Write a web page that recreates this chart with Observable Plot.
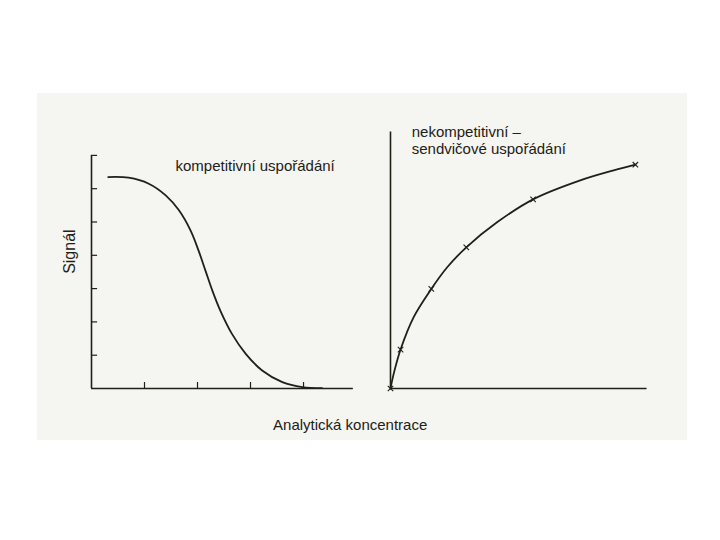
<!DOCTYPE html>
<html>
<head>
<meta charset="utf-8">
<script src="https://cdn.jsdelivr.net/npm/d3@7"></script>
<script src="https://cdn.jsdelivr.net/npm/@observablehq/plot@0.6"></script>
<style>
  html, body { margin: 0; padding: 0; background: #ffffff; }
  #bg { position: absolute; left: 37px; top: 93px; width: 650px; height: 347px; background: #f5f5f2; }
  #chart { position: absolute; left: 0; top: 0; }
</style>
</head>
<body>
<div id="bg"></div>
<div id="chart"></div>
<script>
// Panels
const panels = ["komp", "sand"];

// Competitive (left) curve: x = concentration units, y = signal units
const compX = [0.315, 0.70, 1.08, 1.40, 1.65, 1.87, 2.02, 2.15, 2.28, 2.43, 2.65, 2.91, 3.22, 3.60, 3.98, 4.35];
const compY = [6.35, 6.33, 6.15, 5.80, 5.35, 4.74, 4.14, 3.54, 2.94, 2.34, 1.64, 1.04, 0.54, 0.19, 0.04, 0.01];

// Non-competitive / sandwich (right) curve
const sandX = [0, 0.06, 0.19, 0.44, 0.77, 1.07, 1.43, 2.01, 2.69, 3.58, 4.21, 4.62];
const sandY = [0, 0.44, 1.17, 2.15, 2.99, 3.64, 4.24, 4.99, 5.68, 6.25, 6.55, 6.72];

// Measured points (× markers) on the right curve
const markX = [0, 0.19, 0.77, 1.43, 2.69, 4.62];
const markY = [0, 1.17, 2.99, 4.24, 5.68, 6.72];

// Tick positions (left panel only)
const yTicks = [1, 2, 3, 4, 5, 6, 7];
const xTicks = [1, 2, 3, 4];

// Axis extents per panel
const axisPanel = ["komp", "sand"];
const axisXEnd = [4.94, 4.84];
const axisYEnd = [7.0, 7.70];

// Texts
const leftTitle = "kompetitivní uspořádání";
const rightTitle = ["nekompetitivní –", "sendvičové uspořádání"];
const yLabel = "Signál";
const xLabel = "Analytická koncentrace";

const ink = "#1d2116";

const compData = compX.map((x, i) => ({p: "komp", x, y: compY[i]}));
const sandData = sandX.map((x, i) => ({p: "sand", x, y: sandY[i]}));
const markData = markX.map((x, i) => ({p: "sand", x, y: markY[i]}));
const axes = axisPanel.map((p, i) => ({p, xe: axisXEnd[i], ye: axisYEnd[i]}));
const yTickData = yTicks.map(y => ({p: "komp", y}));
const xTickData = xTicks.map(x => ({p: "komp", x}));

const chart = Plot.plot({
  width: 720,
  height: 540,
  marginLeft: 91,
  marginRight: 68,
  marginTop: 121.6,
  marginBottom: 152,
  style: {fontFamily: "'Liberation Sans', Arial, sans-serif", fontSize: "15px", color: ink, background: "transparent", overflow: "visible"},
  fx: {domain: panels, paddingInner: 0.1237, paddingOuter: 0, round: false, axis: null, label: null},
  x: {domain: [0, 4.943], axis: null},
  y: {domain: [0, 8], axis: null},
  marks: [
    // axes lines
    Plot.ruleY(axes, {fx: "p", y: 0, x1: 0, x2: "xe", stroke: ink, strokeWidth: 1.6}),
    Plot.ruleX(axes, {fx: "p", x: 0, y1: 0, y2: "ye", stroke: ink, strokeWidth: 1.6}),
    // inward ticks (left panel)
    Plot.ruleY(yTickData, {fx: "p", y: "y", x1: 0, x2: 0.115, stroke: ink, strokeWidth: 1.2}),
    Plot.ruleX(xTickData, {fx: "p", x: "x", y1: 0, y2: 0.18, stroke: ink, strokeWidth: 1.2}),
    // curves
    Plot.line(compData, {fx: "p", x: "x", y: "y", curve: "catmull-rom", stroke: ink, strokeWidth: 1.8}),
    Plot.line(sandData, {fx: "p", x: "x", y: "y", curve: "catmull-rom", stroke: ink, strokeWidth: 1.8}),
    Plot.dot(markData, {fx: "p", x: "x", y: "y", symbol: "times", r: 2.6, stroke: ink, strokeWidth: 1.1}),
    // texts
    Plot.text([{p: "komp", t: leftTitle}], {fx: "p", x: 1.585, y: 6.69, text: "t", textAnchor: "start", fill: ink, fontSize: 15}),
    Plot.text([{p: "sand", t: rightTitle.join("\n")}], {fx: "p", x: 0.40, y: 7.89, text: "t", textAnchor: "start", lineAnchor: "top", lineHeight: 1.1, fill: ink, fontSize: 15}),
    Plot.text([{p: "komp", t: yLabel}], {fx: "p", x: -0.415, y: 4.11, text: "t", rotate: -90, fill: ink, fontSize: 16}),
    Plot.text([{p: "komp", t: xLabel}], {fx: "p", x: 4.88, y: -1.11, text: "t", fill: ink, fontSize: 15})
  ]
});
document.getElementById("chart").appendChild(chart);
</script>
</body>
</html>
